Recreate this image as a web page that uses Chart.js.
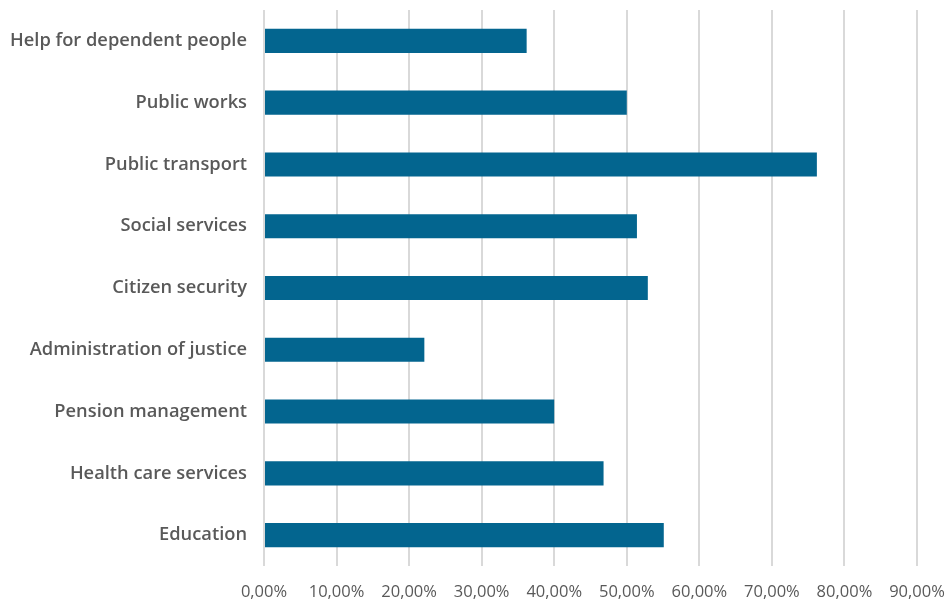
<!DOCTYPE html>
<html>
<head>
<meta charset="utf-8">
<script src="https://cdn.jsdelivr.net/npm/chart.js@4"></script>
<style>
  html, body { margin: 0; padding: 0; background: #ffffff; }
  #wrap { width: 948px; height: 601px; }
</style>
</head>
<body>
<div id="wrap"><canvas id="serviceChart" width="948" height="601"></canvas></div>
<script>
// categories, top to bottom as drawn
const categories = [
  "Help for dependent people",
  "Public works",
  "Public transport",
  "Social services",
  "Citizen security",
  "Administration of justice",
  "Pension management",
  "Health care services",
  "Education"
];

// share of respondents, in percent
const shares = [36.2, 50.0, 76.2, 51.4, 52.9, 22.1, 40.0, 46.8, 55.1];

const axisMin = 0;
const axisMax = 90;
const axisStep = 10;

document.addEventListener("DOMContentLoaded", function () {
  const ctx = document.getElementById("serviceChart").getContext("2d");

  new Chart(ctx, {
    type: "bar",
    data: {
      labels: categories,
      datasets: [{
        data: shares,
        backgroundColor: "#03658F",
        borderWidth: 0,
        categoryPercentage: 1,
        barPercentage: 0.39
      }]
    },
    options: {
      indexAxis: "y",
      responsive: false,
      animation: false,
      layout: { padding: { left: 0, right: 31, top: 10, bottom: 0 } },
      plugins: {
        legend: { display: false },
        tooltip: { enabled: false }
      },
      scales: {
        x: {
          min: axisMin,
          max: axisMax,
          border: { display: false },
          grid: { color: "#d9d9d9", lineWidth: 2, drawTicks: false },
          ticks: {
            stepSize: axisStep,
            padding: 16,
            maxRotation: 0,
            color: "#595959",
            font: { family: "'Open Sans'", size: 16.5 },
            callback: v => v.toFixed(2).replace(".", ",") + "%"
          },
          afterFit: scale => {
            scale.height = 35;
            scale.paddingLeft = 0;
            scale.paddingRight = 0;
          }
        },
        y: {
          border: { display: false },
          grid: { display: false, drawTicks: false },
          ticks: {
            padding: 17,
            color: "#595959",
            font: { family: "'Open Sans'", size: 18.3, weight: "600" }
          },
          afterFit: scale => {
            scale.width = 264;
            scale.paddingTop = 0;
            scale.paddingBottom = 0;
          }
        }
      }
    }
  });
});
</script>
</body>
</html>
